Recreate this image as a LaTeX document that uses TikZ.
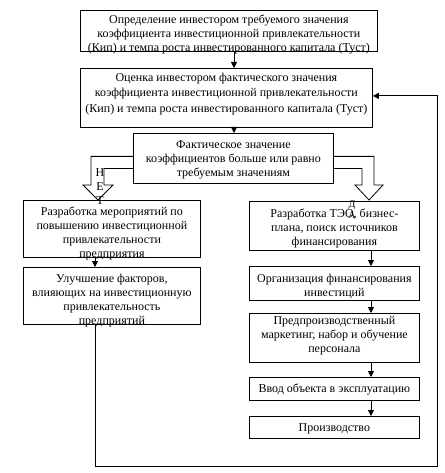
\documentclass[tikz,border=0pt]{standalone}
\usepackage{fontspec}
\setmainfont{Liberation Serif}
\usetikzlibrary{calc,arrows.meta}

\begin{document}
\begin{tikzpicture}[
    x=1pt, y=-1pt,
    box/.style={draw, line width=0.8pt, inner sep=0pt, align=center, anchor=north west, font=\fontsize{12}{14}\selectfont},
    arr/.style={->, line width=0.8pt, >={Triangle[length=6pt,width=6pt]}},
    blk/.style={line width=0.8pt, line join=miter},
    lbl/.style={inner sep=0pt, align=center, font=\fontsize{12}{14}\selectfont}
]
    \useasboundingbox (0,0) rectangle (444,473);

    % --- Central column ---
    \node[box, minimum width=297pt, text height=41pt, text depth=-8pt] (req) at (80,10)
        {Определение инвестором требуемого значения\\коэффициента инвестиционной привлекательности\\(Кип) и темпа роста инвестированного капитала (Туст)};
    \node[box, minimum width=292pt, text height=44pt, text depth=15pt, font=\fontsize{12}{15.5}\selectfont] (est) at (80,68)
        {Оценка инвестором фактического значения\\коэффициента инвестиционной привлекательности\\(Кип) и темпа роста инвестированного капитала (Туст)};
    \node[box, minimum width=200pt, text height=43pt, text depth=7pt] (chk) at (133,133)
        {Фактическое значение\\коэффициентов больше или равно\\требуемым значениям};
    \coordinate (cx) at (234,0);
    \draw[arr] (req.south -| cx) -- (est.north -| cx);
    \draw[arr] (est.south -| cx) -- (chk.north -| cx);

    % --- Left branch (no) ---
    \node[box, minimum width=177pt, text height=57pt, text depth=-7pt] (dev) at (23,200)
        {Разработка мероприятий по\\повышению инвестиционной\\привлекательности\\предприятия};
    \node[box, minimum width=177pt, text height=57pt, text depth=-7pt] (imp) at (23,267)
        {Улучшение факторов,\\влияющих на инвестиционную\\привлекательность\\предприятий};
    \coordinate (lx) at (95,0);
    \draw[arr] (dev.south -| lx) -- (imp.north -| lx);

    % --- Right branch (yes) ---
    \node[box, minimum width=170pt, text height=44pt, text depth=5pt] (teo) at (249,201)
        {Разработка ТЭО, бизнес-\\плана, поиск источников\\финансирования};
    \node[box, minimum width=170pt, text height=30pt, text depth=4pt] (fin) at (249,266)
        {Организация финансирования\\инвестиций};
    \node[box, minimum width=170pt, text height=39pt, text depth=10pt] (mkt) at (249,313)
        {Предпроизводственный\\маркетинг, набор и обучение\\персонала};
    \node[box, minimum width=170pt, text height=15pt, text depth=8pt] (run) at (249,377)
        {Ввод объекта в эксплуатацию};
    \node[box, minimum width=170pt, text height=15pt, text depth=7pt] (prod) at (249,416)
        {Производство};
    \coordinate (rx) at (371,0);
    \draw[arr] (teo.south -| rx) -- (fin.north -| rx);
    \draw[arr] (fin.south -| rx) -- (mkt.north -| rx);
    \draw[arr] (mkt.south -| rx) -- (run.north -| rx);
    \draw[arr] (run.south -| rx) -- (prod.north -| rx);

    % --- Block arrows out of the check ---
    \coordinate (tipno) at (98,200);
    \coordinate (tipyes) at (369,200);
    \draw[blk] ($(chk.west)+(0,-2)$) -| (91,185) -- (83,185) -- (tipno) -- (113,185) -- (104,185) |- ($(chk.west)+(0,10)$);
    \draw[blk] ($(chk.east)+(0,-2)$) -| (374,185) -- (383,185) -- (tipyes) -- (355,185) -- (362,185) |- ($(chk.east)+(0,10)$);
    \node[lbl] (no) at (100,187) {Н\\Е\\Т};
    \node[lbl, font=\fontsize{10}{11}\selectfont] (yes) at (352,210) {Д\\А};

    % --- Feedback loop ---
    \coordinate (fb) at (437,466);
    \draw[arr] (imp.south -| lx) |- (fb) |- ($(est.east)+(0,-2)$);
\end{tikzpicture}
\end{document}
